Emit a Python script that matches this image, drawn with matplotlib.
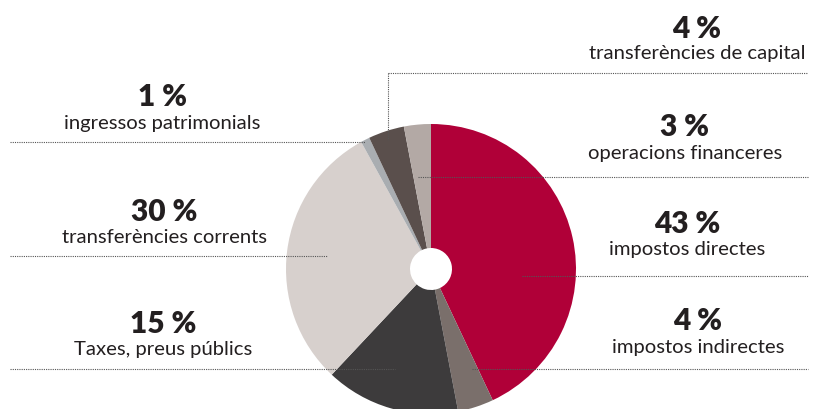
import matplotlib
matplotlib.use("Agg")
import matplotlib.pyplot as plt

# slices, clockwise from the top
labels = ["impostos directes", "impostos indirectes", "Taxes, preus públics",
          "transferències corrents", "ingressos patrimonials",
          "transferències de capital", "operacions financeres"]
values = [43, 4, 15, 30, 1, 4, 3]
colors = ["#b00038", "#7a6f6b", "#3d3b3c", "#d7d0cd", "#a9adb1", "#5a4f4c", "#b3a9a5"]

W, H = 814, 410

fig = plt.figure(figsize=(W / 100, H / 100), dpi=100)
ax = fig.add_axes([0, 0, 1, 1])

# pixel coords of the pie (y measured from top of image)
cx, cy, r, hole = 431, 270, 145, 21
ax.pie(values, colors=colors, startangle=90, counterclock=False,
       center=(cx, H - cy), radius=r,
       wedgeprops=dict(width=r - hole, linewidth=0))

ax.set_xlim(0, W)
ax.set_ylim(0, H)
ax.set_aspect("equal")
ax.axis("off")

dot = dict(color="#555555", linewidth=0.8, linestyle=(0, (1, 1)))

def hline(x0, x1, y):
    ax.plot([x0, x1], [H - y, H - y], **dot)

# leader lines (pixel coords)
hline(10, 365, 143)      # ingressos patrimonials
hline(10, 327, 257)      # transferències corrents
hline(10, 395, 370)      # taxes
hline(388, 808, 74)      # transferències de capital
ax.plot([388, 388], [H - 74, H - 141], **dot)
hline(418, 808, 178)     # operacions financeres
hline(522, 808, 277)     # impostos directes
hline(472, 808, 370)     # impostos indirectes

# label positions: (x centre, y of percent, y of name)
pos = {
    "transferències de capital": (697, 29, 53),
    "ingressos patrimonials": (162, 97, 124),
    "operacions financeres": (685, 127, 154),
    "transferències corrents": (164, 212, 238),
    "impostos directes": (687, 224, 249),
    "Taxes, preus públics": (163, 324, 350),
    "impostos indirectes": (698, 321, 348),
}

for lab, val in zip(labels, values):
    x, yp, yn = pos[lab]
    ax.text(x, H - yp, f"{val} %", ha="center", va="center",
            fontsize=21.5, fontweight="heavy", color="#231f20", family="Lato")
    ax.text(x, H - yn, lab, ha="center", va="center",
            fontsize=14.6, color="#231f20", family="Lato")

fig.savefig("out.png", dpi=100)
